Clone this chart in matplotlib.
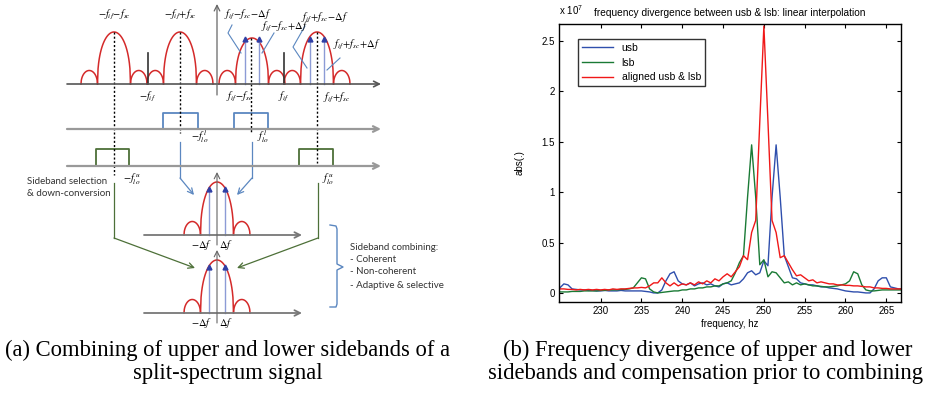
# -*- coding: utf8 -*-
"""
    split-spectrum sideband figure: diagram (a) + spectrum plot (b)
"""
import numpy as np
import matplotlib
matplotlib.use('Agg')
import matplotlib.pyplot as plt

plt.rcParams['mathtext.fontset'] = 'stix'

# ---- data for plot (b), amplitudes in units of 1e7 ----
freq = np.arange(225.0, 267.5, 0.5)

usb = [0.05, 0.09, 0.08, 0.04, 0.035, 0.03, 0.03, 0.025, 0.025, 0.02,
       0.02, 0.025, 0.02, 0.02, 0.02, 0.025, 0.02, 0.02, 0.02, 0.02,
       0.02, 0.015, 0.01, 0.0, 0.0, 0.03, 0.12, 0.19, 0.21, 0.12,
       0.09, 0.08, 0.10, 0.07, 0.09, 0.10, 0.08, 0.09, 0.07, 0.06,
       0.09, 0.10, 0.08, 0.09, 0.10, 0.14, 0.20, 0.22, 0.18, 0.20,
       0.32, 0.27, 0.95, 1.47, 0.95, 0.37, 0.26, 0.15, 0.14, 0.10,
       0.09, 0.08, 0.08, 0.07, 0.06, 0.06, 0.05, 0.045, 0.04, 0.03,
       0.02, 0.015, 0.01, 0.01, 0.005, 0.0, 0.0, 0.04, 0.12, 0.15,
       0.15, 0.06, 0.05, 0.04, 0.04]

lsb = [0.01, 0.01, 0.01, 0.015, 0.015, 0.015, 0.02, 0.02, 0.02, 0.02,
       0.025, 0.025, 0.03, 0.03, 0.03, 0.035, 0.035, 0.04, 0.05, 0.10,
       0.15, 0.14, 0.04, 0.01, 0.0, 0.005, 0.01, 0.015, 0.02, 0.02,
       0.03, 0.03, 0.04, 0.04, 0.05, 0.05, 0.06, 0.06, 0.07, 0.07,
       0.09, 0.10, 0.12, 0.20, 0.30, 0.37, 0.95, 1.47, 0.95, 0.28,
       0.33, 0.16, 0.21, 0.20, 0.15, 0.10, 0.11, 0.08, 0.10, 0.08,
       0.09, 0.08, 0.07, 0.07, 0.065, 0.06, 0.06, 0.065, 0.07, 0.08,
       0.09, 0.12, 0.21, 0.19, 0.08, 0.03, 0.02, 0.02, 0.025, 0.03,
       0.03, 0.03, 0.03, 0.03, 0.03]

aligned = [0.04, 0.04, 0.035, 0.035, 0.03, 0.035, 0.03, 0.035, 0.03, 0.035,
           0.03, 0.035, 0.03, 0.04, 0.035, 0.04, 0.04, 0.045, 0.05, 0.05,
           0.055, 0.05, 0.07, 0.10, 0.10, 0.15, 0.10, 0.07, 0.10, 0.07,
           0.09, 0.08, 0.10, 0.08, 0.11, 0.09, 0.12, 0.10, 0.14, 0.12,
           0.16, 0.19, 0.16, 0.21, 0.26, 0.37, 0.33, 0.60, 0.72, 1.70,
           2.65, 1.70, 0.72, 0.60, 0.35, 0.37, 0.30, 0.23, 0.17, 0.18,
           0.15, 0.12, 0.13, 0.10, 0.11, 0.10, 0.09, 0.09, 0.08, 0.08,
           0.075, 0.075, 0.07, 0.07, 0.065, 0.06, 0.06, 0.05, 0.05, 0.045,
           0.045, 0.04, 0.04, 0.04, 0.04]

x_ticks = [230, 235, 240, 245, 250, 255, 260, 265]
y_ticks = [0, 0.5, 1, 1.5, 2, 2.5]
y_tick_labels = ['0', '0.5', '1', '1.5', '2', '2.5']

# ---- diagram (a) layout, in pixel units ----
top_base = 84
top_lobes = [(114, 52), (180, 52), (252, 46), (317, 52)]   # centre, height
if_bars = [148, 284]
tones_top = [(245, 39), (259, 39), (310, 39), (324, 39)]
lower_base = [235, 313]

RED = '#d42a2a'
LBLUE = '#5b87c0'
DGREEN = '#4d7038'
TONE = '#8c9bd6'
TRI = '#2f3fa5'

fig = plt.figure(figsize=(9.33, 3.93), dpi=100)
d = fig.add_axes([0, 0, 1, 1])
d.set_xlim(0, 933)
d.set_ylim(393, 0)
d.axis('off')


def lobe(cx, base, h, half, p):
    u = np.linspace(-1, 1, 60)
    d.plot(cx + u * half, base - h * (1 - u ** 2) ** p, color=RED, lw=1.1)


def spectrum(cx, base, h):
    lobe(cx, base, h, 16.5, 0.45)
    for s in (-1, 1):
        lobe(cx + s * 24.75, base, 13.5, 8.25, 0.5)


def arrow(x0, y0, x1, y1, col, lw=1.0):
    d.annotate('', xy=(x1, y1), xytext=(x0, y0),
               arrowprops=dict(arrowstyle='->', color=col, lw=lw,
                               shrinkA=0, shrinkB=0))


# top spectrum
arrow(67, top_base, 381, top_base, '#555555', 1.2)
arrow(217, 95, 217, 4, '#666666', 0.9)
for cx, h in top_lobes:
    spectrum(cx, top_base, h)
for xb in if_bars:
    d.plot([xb, xb], [53, top_base], color='#333333', lw=1.2)
for xt, yt in tones_top:
    d.plot([xt, xt], [yt, top_base], color=TONE, lw=1)
    d.plot(xt, yt, marker='^', color=TRI, ms=3.5)

# mixing axes and LO boxes
arrow(67, 129, 381, 129, '#999999', 1.6)
arrow(67, 166, 381, 166, '#999999', 1.6)
for x0, x1 in [(163, 198), (234, 268)]:
    d.plot([x0, x0, x1, x1], [129, 113, 113, 129], color=LBLUE, lw=1.3)
for x0, x1 in [(96, 129), (299, 333)]:
    d.plot([x0, x0, x1, x1], [166, 149, 149, 166], color=DGREEN, lw=1.3)

# dotted centre lines
for xd, y0, y1 in [(114, 32, 175), (180, 32, 133), (251, 38, 133), (317, 32, 163)]:
    d.plot([xd, xd], [y0, y1], color='k', lw=1, ls=(0, (1.5, 1.5)))

# down-conversion paths
for xs, xe in [(180, 194), (252, 237)]:
    d.plot([xs, xs], [142, 178], color=LBLUE, lw=0.9)
    arrow(xs, 178, xe, 195, LBLUE, 0.9)
for xs, xe in [(114, 195), (318, 237)]:
    d.plot([xs, xs], [183, 238], color=DGREEN, lw=0.9)
    arrow(xs, 238, xe, 268, DGREEN, 0.9)

# baseband spectra
for base in lower_base:
    arrow(144, base, 302, base, '#777777', 1.3)
    arrow(217, base + 10, 217, base - 63, '#666666', 0.8)
    spectrum(217, base, 53)
    for xt in (209, 225):
        d.plot([xt, xt], [base - 46, base], color=TONE, lw=1)
        d.plot(xt, base - 46, marker='^', color=TRI, ms=3.5)
    d.text(202, base + 10, r'$-\Delta f$', ha='center', va='center', fontsize=7.5)
    d.text(226, base + 10, r'$\Delta f$', ha='center', va='center', fontsize=7.5)

# leader lines
for pts in [[(232, 25), (228, 33), (241, 53)], [(274, 33), (262, 53)],
            [(305, 26), (293, 47), (307, 68)], [(340, 58), (327, 70)]]:
    d.plot([p[0] for p in pts], [p[1] for p in pts], color=LBLUE, lw=0.8)

# bracket
d.plot([330, 336, 337, 337, 343, 337, 337, 336, 330],
       [225, 226, 229, 264, 267, 270, 304, 307, 307], color=LBLUE, lw=1)

# diagram labels
fs = 7.5
lab = [
    (114, 15, r'$-f_{if}\!-\!f_{sc}$', 'center'),
    (180, 15, r'$-f_{if}\!+\!f_{sc}$', 'center'),
    (224, 15, r'$f_{if}\!-\!f_{sc}\!-\!\Delta f$', 'left'),
    (261, 27, r'$f_{if}\!-\!f_{sc}\!+\!\Delta f$', 'left'),
    (301, 18, r'$f_{if}\!+\!f_{sc}\!-\!\Delta f$', 'left'),
    (333, 45, r'$f_{if}\!+\!f_{sc}\!+\!\Delta f$', 'left'),
    (148, 97, r'$-f_{if}$', 'center'),
    (240, 97, r'$f_{if}\!-\!f_{sc}$', 'center'),
    (284, 97, r'$f_{if}$', 'center'),
    (337, 98, r'$f_{if}\!+\!f_{sc}$', 'center'),
    (200, 137, r'$-f^{\,l}_{lo}$', 'center'),
    (263, 137, r'$f^{\,l}_{lo}$', 'center'),
    (132, 179, r'$-f^{\,u}_{lo}$', 'center'),
    (328, 179, r'$f^{\,u}_{lo}$', 'center'),
]
for x, y, s, ha in lab:
    d.text(x, y, s, ha=ha, va='center', fontsize=fs)

sans = dict(family='Lato', fontsize=7, color='#333333', va='center')
d.text(27, 181, 'Sideband selection', **sans)
d.text(27, 193, '& down-conversion', **sans)
for y, s in [(248, 'Sideband combining:'), (260, '- Coherent'),
             (272, '- Non-coherent'), (285, '- Adaptive & selective')]:
    d.text(350, y, s, **sans)

# captions
cap = dict(family='Liberation Serif', fontsize=16.3, ha='center', va='center')
d.text(228, 350, '(a) Combining of upper and lower sidebands of a', **cap)
d.text(228, 373, 'split-spectrum signal', **cap)
d.text(708, 350, '(b) Frequency divergence of upper and lower', **cap)
d.text(706, 373, 'sidebands and compensation prior to combining', **cap)

# ---- plot (b) ----
ax = fig.add_axes([559 / 933, 91 / 393, 342 / 933, 278 / 393])
ax.plot(freq, usb, color='#2f4fad', lw=1, label='usb')
ax.plot(freq, lsb, color='#1a7a35', lw=1, label='lsb')
ax.plot(freq, aligned, color='#f01818', lw=1, label='aligned usb & lsb')
ax.set_xlim(224.9, 266.8)
ax.set_ylim(-0.09, 2.67)
ax.set_xticks(x_ticks)
ax.set_yticks(y_ticks)
ax.set_yticklabels(y_tick_labels)
ax.tick_params(direction='in', top=True, right=True, length=3,
               labelsize=7, pad=3)
for lbl in ax.get_xticklabels() + ax.get_yticklabels():
    lbl.set_family('Liberation Sans')
for sp in ax.spines.values():
    sp.set_linewidth(1)
ax.set_xlabel('frequency, hz', family='Liberation Sans', fontsize=7, labelpad=2)
ax.set_ylabel('abs(.)', family='Liberation Sans', fontsize=7, labelpad=12)
ax.set_title('frequency divergence between usb & lsb: linear interpolation',
             family='Liberation Sans', fontsize=7.3, pad=6)
ax.text(0, 1.025, r'x 10$^{\mathregular{7}}$', transform=ax.transAxes,
        family='Liberation Sans', fontsize=7, va='bottom')
leg = ax.legend(loc='upper left', bbox_to_anchor=(0.055, 0.947),
                borderaxespad=0, fancybox=False, edgecolor='k',
                prop={'family': 'Liberation Sans', 'size': 7.5},
                handlelength=3, labelspacing=0.45)
leg.get_frame().set_linewidth(1)

fig.savefig('out.png', dpi=100)
